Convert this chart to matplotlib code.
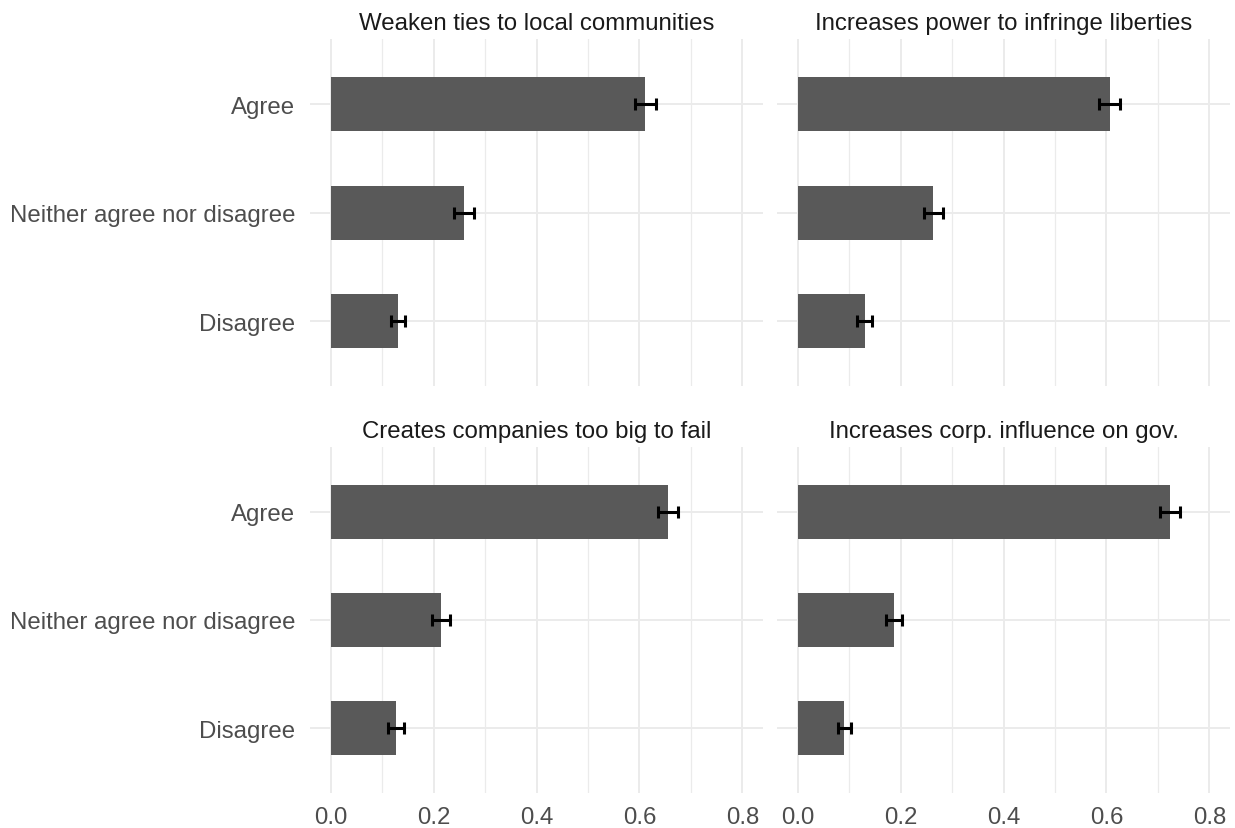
import matplotlib
matplotlib.use("Agg")
import matplotlib.pyplot as plt
from matplotlib.ticker import MultipleLocator, NullFormatter

plt.rcParams["font.family"] = ["Liberation Sans", "DejaVu Sans"]

# Survey items (one facet each) and response categories
items = [
    "Weaken ties to local communities",
    "Increases power to infringe liberties",
    "Creates companies too big to fail",
    "Increases corp. influence on gov.",
]
responses = ["Agree", "Neither agree nor disagree", "Disagree"]

# Share of respondents per response, and half-width of the error bars
weaken_share = [0.611, 0.259, 0.131]
weaken_err = [0.0205, 0.019, 0.0145]
liberties_share = [0.606, 0.264, 0.130]
liberties_err = [0.021, 0.0185, 0.015]
toobig_share = [0.655, 0.214, 0.127]
toobig_err = [0.0195, 0.0175, 0.015]
corp_share = [0.723, 0.187, 0.091]
corp_err = [0.0195, 0.016, 0.013]

shares = [weaken_share, liberties_share, toobig_share, corp_share]
errs = [weaken_err, liberties_err, toobig_err, corp_err]

x_ticks = [0.0, 0.2, 0.4, 0.6, 0.8]
x_ticklabels = ["0.0", "0.2", "0.4", "0.6", "0.8"]

W, H = 1235, 829
fig = plt.figure(figsize=(W / 100, H / 100), dpi=100)

BAR = "#595959"
GRID = "#EBEBEB"
TICK_TXT = "#4D4D4D"
TITLE_TXT = "#1A1A1A"
FS = 17.3

# panel boxes in pixels: (left, top, right, bottom)
cols = [(310, 763), (777, 1230)]
rows = [(40.2, 387.4), (447.8, 794.0)]

for k, (item, share, err) in enumerate(zip(items, shares, errs)):
    r, c = divmod(k, 2)
    x0, x1 = cols[c]
    y0, y1 = rows[r]
    ax = fig.add_axes([x0 / W, 1 - y1 / H, (x1 - x0) / W, (y1 - y0) / H])

    # categories from top to bottom: Agree, Neither, Disagree
    ypos = [len(responses) - 1 - i for i in range(len(responses))]
    ax.barh(ypos, share, height=0.5, color=BAR, zorder=2)
    ax.errorbar(share, ypos, xerr=err, fmt="none", ecolor="black",
                elinewidth=2.2, capsize=4.0, capthick=2.2, zorder=3)

    ax.set_xlim(-0.04, 0.84)
    ax.set_ylim(-0.6, 2.6)

    ax.set_xticks(x_ticks)
    ax.xaxis.set_minor_locator(MultipleLocator(0.1))
    ax.xaxis.set_minor_formatter(NullFormatter())
    ax.set_yticks(ypos)

    ax.grid(which="major", axis="both", color=GRID, linewidth=1.4, zorder=0)
    ax.grid(which="minor", axis="x", color=GRID, linewidth=0.9, zorder=0)
    ax.set_axisbelow(True)

    for s in ax.spines.values():
        s.set_visible(False)
    ax.tick_params(which="both", length=0)
    ax.tick_params(axis="x", pad=9.5, labelsize=FS, labelcolor=TICK_TXT)
    ax.tick_params(axis="y", pad=10.5, labelsize=FS, labelcolor=TICK_TXT)

    if c == 0:
        ax.set_yticklabels(responses)
    else:
        ax.set_yticklabels([])
    if r == 1:
        ax.set_xticklabels(x_ticklabels)
    else:
        ax.set_xticklabels([])

    ax.set_title(item, fontsize=FS, color=TITLE_TXT, pad=7)

fig.savefig("out.png", dpi=100, facecolor="white")
